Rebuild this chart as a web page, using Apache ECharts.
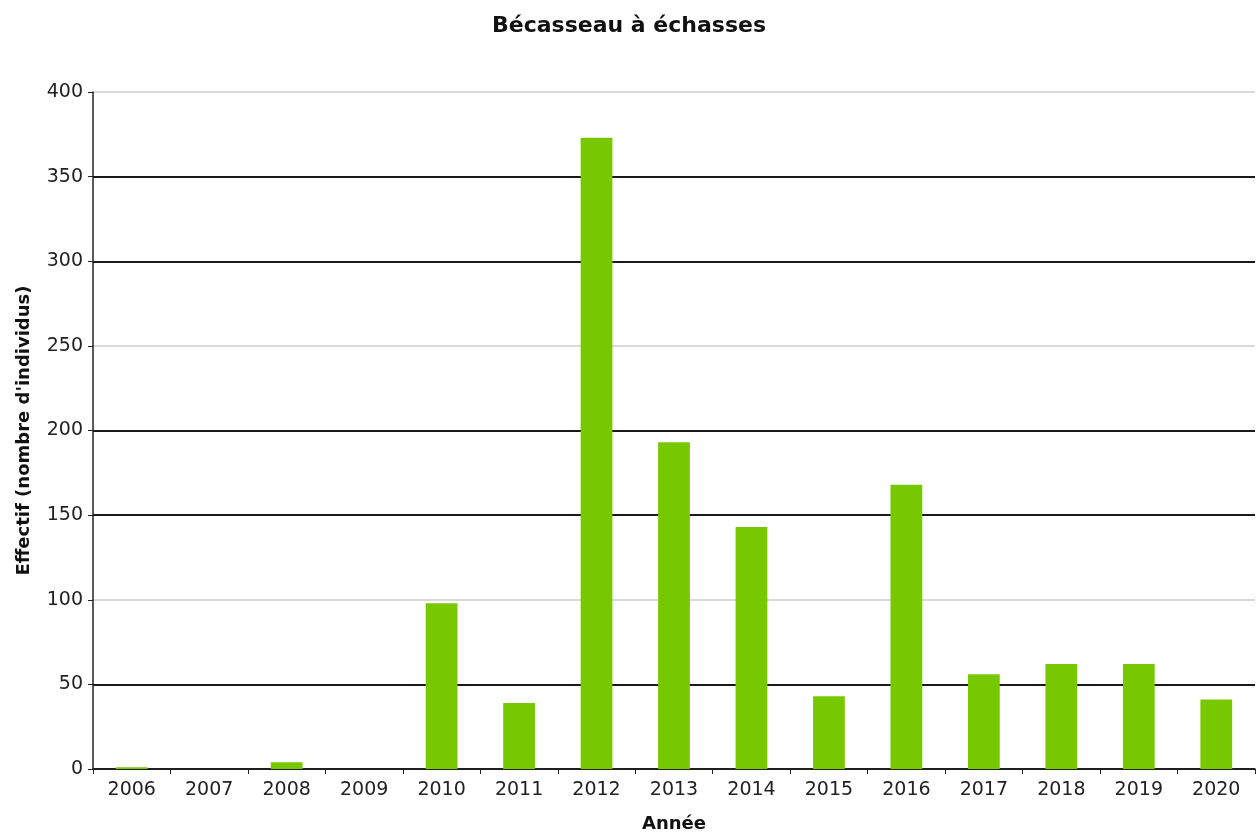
<!DOCTYPE html>
<html><head><meta charset="utf-8">
<script src="https://cdn.jsdelivr.net/npm/echarts@6/dist/echarts.min.js"></script>
<style>html,body{margin:0;padding:0;background:#fff}#c{width:1258px;height:838px}</style>
</head><body><div id="c"></div>
<script>
const title = 'Bécasseau à échasses';
const years = ['2006','2007','2008','2009','2010','2011','2012','2013','2014','2015','2016','2017','2018','2019','2020'];
const effectif = [1, 0, 4, 0, 98, 39, 373, 193, 143, 43, 168, 56, 62, 62, 41];
const yTicks = {min: 0, max: 400, interval: 50};

const chart = echarts.init(document.getElementById('c'));
const font = '"DejaVu Sans", sans-serif';
chart.setOption({
  animation: false,
  title: {text: title, left: 'center', top: 10,
    textStyle: {fontFamily: font, fontSize: 22, fontWeight: 'bold', color: '#111'}},
  grid: {left: 93, right: 3, top: 92, bottom: 66},
  xAxis: {type: 'category', data: years,
    name: 'Année', nameLocation: 'middle', nameGap: 46,
    nameTextStyle: {fontFamily: font, fontSize: 18, fontWeight: 'bold', color: '#111'},
    axisLine: {lineStyle: {color: '#222', width: 1.5}},
    axisTick: {show: true, alignWithLabel: false, length: 5, lineStyle: {color: '#222'}},
    axisLabel: {fontFamily: font, fontSize: 19, color: '#222', margin: 12}},
  yAxis: {type: 'value', min: yTicks.min, max: yTicks.max, interval: yTicks.interval,
    name: "Effectif (nombre d'individus)", nameLocation: 'middle', nameGap: 60, nameRotate: 90,
    nameTextStyle: {fontFamily: font, fontSize: 18, fontWeight: 'bold', color: '#111'},
    axisLine: {show: true, lineStyle: {color: '#222', width: 1.5}},
    axisTick: {show: true, length: 5, lineStyle: {color: '#222'}},
    axisLabel: {fontFamily: font, fontSize: 19, color: '#222', margin: 10},
    splitLine: {show: true, lineStyle: {color: ['#1a1a1a', '#1a1a1a', '#d9d9d9'], width: 1.8}}},
  series: [{type: 'bar', data: effectif, barWidth: '41%',
    itemStyle: {color: '#78c800'}}]
});
</script></body></html>
